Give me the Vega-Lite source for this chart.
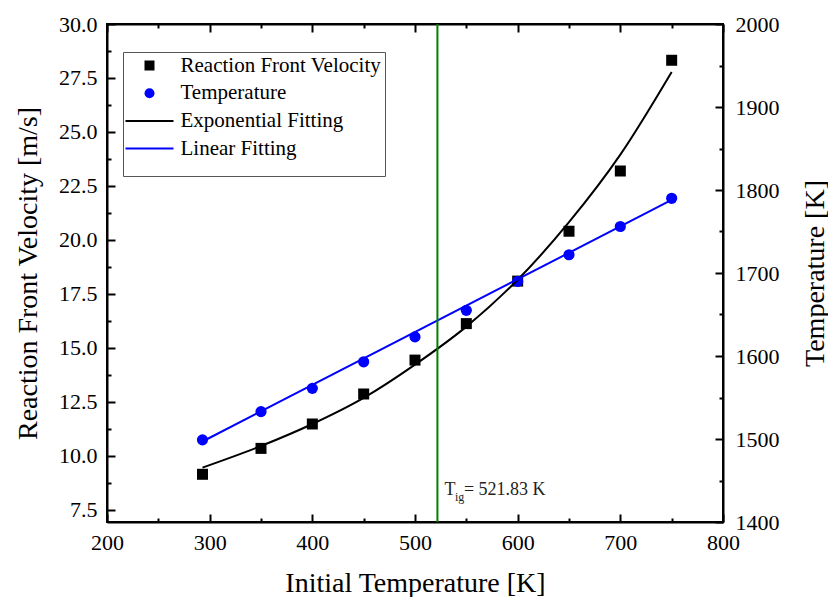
{
  "$schema": "https://vega.github.io/schema/vega-lite/v6.json",
  "width": 616,
  "height": 498,
  "autosize": {"type": "none"},
  "padding": {"left": 107, "top": 24, "right": 105, "bottom": 75},
  "background": "white",
  "config": {
    "font": "Liberation Serif",
    "view": {"stroke": "black", "strokeWidth": 2},
    "axis": {
      "domainColor": "black",
      "domainWidth": 2,
      "ticks": false,
      "gridColor": "black",
      "gridWidth": 2,
      "gridOpacity": 1,
      "labelColor": "black",
      "labelFont": "Liberation Serif",
      "labelFontSize": 22,
      "labelOverlap": false,
      "labelFlush": false,
      "titleFont": "Liberation Serif",
      "titleFontSize": 28,
      "titleFontWeight": "normal",
      "titleColor": "black"
    },
    "legend": {
      "labelFont": "Liberation Serif",
      "labelFontSize": 21,
      "labelColor": "black",
      "labelLimit": 400
    }
  },
  "datasets": {
    "velocity": [
      {"T": 293, "v": 9.14},
      {"T": 350, "v": 10.34},
      {"T": 400, "v": 11.47},
      {"T": 450, "v": 12.86},
      {"T": 500, "v": 14.43},
      {"T": 550, "v": 16.12},
      {"T": 600, "v": 18.09},
      {"T": 650, "v": 20.40},
      {"T": 700, "v": 23.19},
      {"T": 750, "v": 28.32}
    ],
    "expfit": [
      {"T": 293, "v": 9.45},
      {"T": 350, "v": 10.45},
      {"T": 400, "v": 11.47},
      {"T": 450, "v": 12.68},
      {"T": 500, "v": 14.22},
      {"T": 550, "v": 15.98},
      {"T": 600, "v": 18.15},
      {"T": 650, "v": 20.82},
      {"T": 700, "v": 23.95},
      {"T": 750, "v": 27.78}
    ],
    "temperature": [
      {"T": 293, "K": 1499},
      {"T": 350, "K": 1533},
      {"T": 400, "K": 1561},
      {"T": 450, "K": 1593},
      {"T": 500, "K": 1623},
      {"T": 550, "K": 1655},
      {"T": 600, "K": 1690},
      {"T": 650, "K": 1722},
      {"T": 700, "K": 1756},
      {"T": 750, "K": 1790}
    ],
    "linfit": [
      {"T": 293, "K": 1497},
      {"T": 750, "K": 1788}
    ],
    "tig": [
      {"T": 521.83, "v": 8.18}
    ]
  },
  "layer": [
    {
      "layer": [
        {
          "data": {"name": "velocity"},
          "mark": {"type": "point", "shape": "square", "filled": true, "size": 121, "opacity": 1},
          "encoding": {
            "x": {
              "field": "T", "type": "quantitative",
              "scale": {"domain": [200, 800], "nice": false, "zero": false},
              "axis": {
                "orient": "bottom",
                "title": "Initial Temperature [K]",
                "values": [200, 300, 400, 500, 600, 700, 800],
                "format": "d",
                "grid": true,
                "gridDash": [8, 2000],
                "labelPadding": 10,
                "titleBaseline": "alphabetic",
                "titleY": 69
              }
            },
            "y": {
              "field": "v", "type": "quantitative",
              "scale": {"domain": [6.93, 30], "nice": false, "zero": false},
              "axis": {
                "orient": "left",
                "title": "Reaction Front Velocity [m/s]",
                "values": [7.5, 10, 12.5, 15, 17.5, 20, 22.5, 25, 27.5, 30],
                "format": ".1f",
                "grid": true,
                "gridDash": [8, 2000],
                "labelPadding": 10,
                "titleAngle": 270,
                "titleBaseline": "alphabetic",
                "titleX": -71,
                "titleY": 249
              }
            },
            "color": {"datum": "Reaction Front Velocity", "type": "nominal"}
          }
        },
        {
          "data": {"name": "tig"},
          "mark": {"type": "text", "text": "T", "align": "left", "baseline": "alphabetic", "dx": 7, "fontSize": 18, "color": "#222222"},
          "encoding": {
            "x": {"field": "T", "type": "quantitative"},
            "y": {"field": "v", "type": "quantitative"}
          }
        },
        {
          "data": {"name": "tig"},
          "mark": {"type": "text", "text": "ig", "align": "left", "baseline": "alphabetic", "dx": 17.5, "dy": 6, "fontSize": 12, "color": "#222222"},
          "encoding": {
            "x": {"field": "T", "type": "quantitative"},
            "y": {"field": "v", "type": "quantitative"}
          }
        },
        {
          "data": {"name": "tig"},
          "mark": {"type": "text", "text": "= 521.83 K", "align": "left", "baseline": "alphabetic", "dx": 26.5, "fontSize": 18, "color": "#222222"},
          "encoding": {
            "x": {"field": "T", "type": "quantitative"},
            "y": {"field": "v", "type": "quantitative"}
          }
        }
      ]
    },
    {
      "data": {"name": "temperature"},
      "mark": {"type": "point", "shape": "circle", "filled": true, "size": 125, "opacity": 1},
      "encoding": {
        "x": {
          "field": "T", "type": "quantitative",
          "axis": {
            "orient": "top",
            "title": null,
            "labels": false,
            "grid": true,
            "gridDash": [8, 2000],
            "values": [200, 300, 400, 500, 600, 700, 800]
          }
        },
        "y": {
          "field": "K", "type": "quantitative",
          "scale": {"domain": [1400, 2000], "nice": false, "zero": false},
          "axis": {
            "orient": "right",
            "title": "Temperature [K]",
            "values": [1400, 1500, 1600, 1700, 1800, 1900, 2000],
            "format": "d",
            "grid": true,
            "gridDash": [8, 2000],
            "labelPadding": 12,
            "titleAngle": 270,
            "titleBaseline": "alphabetic",
            "titleX": 100,
            "titleY": 249
          }
        },
        "color": {"datum": "Temperature", "type": "nominal"}
      }
    },
    {
      "data": {"name": "expfit"},
      "mark": {"type": "line", "interpolate": "monotone", "strokeWidth": 2},
      "encoding": {
        "x": {
          "field": "T", "type": "quantitative",
          "axis": {
            "orient": "bottom",
            "title": null,
            "labels": false,
            "domain": false,
            "grid": true,
            "gridDash": [4, 2000],
            "values": [250, 350, 450, 550, 650, 750]
          }
        },
        "y": {
          "field": "v", "type": "quantitative",
          "scale": {"domain": [6.93, 30], "nice": false, "zero": false},
          "axis": {
            "orient": "left",
            "title": null,
            "labels": false,
            "domain": false,
            "grid": true,
            "gridDash": [4, 2000],
            "values": [8.75, 11.25, 13.75, 16.25, 18.75, 21.25, 23.75, 26.25, 28.75]
          }
        },
        "color": {"datum": "Exponential Fitting", "type": "nominal"}
      }
    },
    {
      "layer": [
        {
          "data": {"name": "linfit"},
          "mark": {"type": "line", "strokeWidth": 2},
          "encoding": {
            "x": {
              "field": "T", "type": "quantitative",
              "axis": {
                "orient": "top",
                "title": null,
                "labels": false,
                "domain": false,
                "grid": true,
                "gridDash": [4, 2000],
                "values": [250, 350, 450, 550, 650, 750]
              }
            },
            "y": {
              "field": "K", "type": "quantitative",
              "scale": {"domain": [1400, 2000], "nice": false, "zero": false},
              "axis": {
                "orient": "right",
                "title": null,
                "labels": false,
                "domain": false,
                "grid": true,
                "gridDash": [4, 2000],
                "values": [1450, 1550, 1650, 1750, 1850, 1950]
              }
            },
            "color": {"datum": "Linear Fitting", "type": "nominal"}
          }
        },
        {
          "data": {"name": "tig"},
          "mark": {"type": "rule", "color": "#008000", "strokeWidth": 2},
          "encoding": {
            "x": {"field": "T", "type": "quantitative"}
          }
        }
      ]
    }
  ],
  "resolve": {
    "scale": {"y": "independent"},
    "axis": {"x": "independent", "y": "independent"}
  },
  "encoding": {
    "color": {
      "type": "nominal",
      "scale": {
        "domain": ["Reaction Front Velocity", "Temperature", "Exponential Fitting", "Linear Fitting"],
        "range": ["black", "blue", "black", "blue"]
      },
      "legend": {
        "title": " ",
        "titleOrient": "bottom",
        "titleFontSize": 12,
        "titlePadding": 3,
        "orient": "none",
        "legendX": 16,
        "legendY": 28,
        "padding": 3,
        "rowPadding": 5.7,
        "symbolOffset": 13,
        "labelOffset": 20.5,
        "strokeColor": "#555555",
        "fillColor": "white",
        "encode": {
          "symbols": {
            "update": {
              "shape": {"signal": "datum.value === 'Reaction Front Velocity' ? 'square' : datum.value === 'Temperature' ? 'circle' : 'M-4.8,0L4.8,0'"},
              "size": {"value": 100},
              "fill": {"signal": "datum.value === 'Temperature' || datum.value === 'Linear Fitting' ? 'blue' : 'black'"},
              "stroke": {"signal": "datum.value === 'Temperature' || datum.value === 'Linear Fitting' ? 'blue' : 'black'"},
              "strokeWidth": {"signal": "datum.value === 'Exponential Fitting' || datum.value === 'Linear Fitting' ? 2 : 0"},
              "opacity": {"value": 1}
            }
          }
        }
      }
    }
  }
}
